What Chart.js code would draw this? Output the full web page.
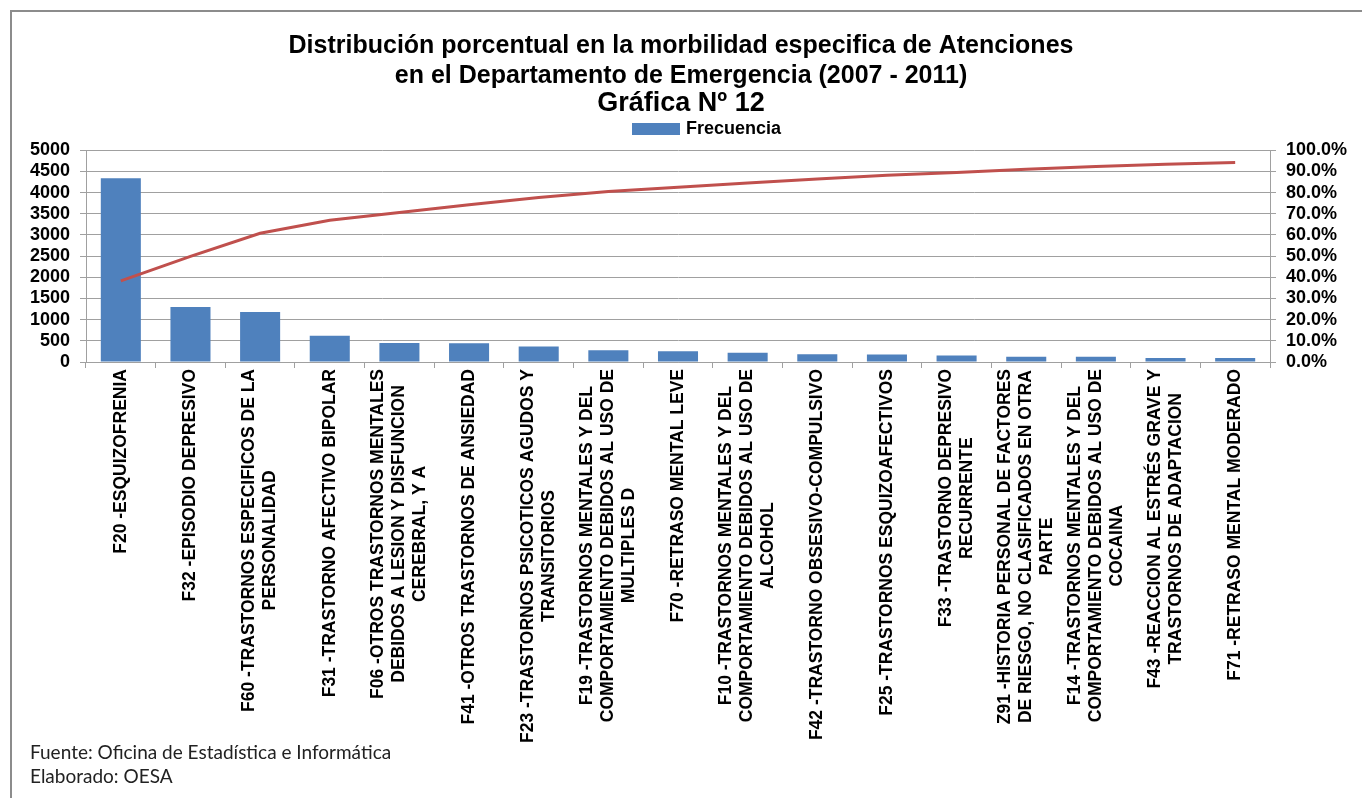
<!DOCTYPE html>
<html lang="es">
<head>
<meta charset="utf-8">
<title>Gráfica Nº 12</title>
<script src="https://cdn.jsdelivr.net/npm/chart.js@4.4.1/dist/chart.umd.min.js"></script>
<style>
  html, body { margin: 0; padding: 0; background: #fff; }
  #wrap { position: relative; width: 1362px; height: 798px; overflow: hidden; }
  #frame { position: absolute; left: 10px; top: 10px; right: -4px; bottom: -4px;
           border-top: 2px solid #8c8c8c; border-left: 2px solid #8c8c8c; }
  #chart { position: absolute; left: 0; top: 0; }
  #legend { position: absolute; left: 632px; top: 118px; display: flex; align-items: center;
            font: bold 18px "Liberation Sans", Arial, sans-serif; color: #000; }
  #legend .box { width: 48px; height: 12px; background: #4F81BD; margin-right: 6px; }
  #footer { position: absolute; left: 30px; top: 740px; font: 19px Lato, "Noto Sans", sans-serif;
            color: #222; line-height: 24px; }
</style>
</head>
<body>
<div id="wrap">
  <div id="frame"></div>
  <canvas id="chart" width="1362" height="798"></canvas>
  <div id="legend"><span class="box"></span><span>Frecuencia</span></div>
  <div id="footer">Fuente: Oficina de Estadística e Informática<br>Elaborado: OESA</div>
</div>
<script>
const titleLines = [
  'Distribución porcentual en la morbilidad especifica de Atenciones',
  'en el Departamento de Emergencia (2007 - 2011)'
];
const subtitle = 'Gráfica Nº 12';

const categories = [
  ['F20 -ESQUIZOFRENIA'],
  ['F32 -EPISODIO DEPRESIVO'],
  ['F60 -TRASTORNOS ESPECIFICOS DE LA', 'PERSONALIDAD'],
  ['F31 -TRASTORNO AFECTIVO BIPOLAR'],
  ['F06 -OTROS TRASTORNOS MENTALES', 'DEBIDOS A LESION Y DISFUNCION', 'CEREBRAL, Y A'],
  ['F41 -OTROS TRASTORNOS DE ANSIEDAD'],
  ['F23 -TRASTORNOS PSICOTICOS AGUDOS Y', 'TRANSITORIOS'],
  ['F19 -TRASTORNOS MENTALES Y DEL', 'COMPORTAMIENTO DEBIDOS AL USO DE', 'MULTIPLES D'],
  ['F70 -RETRASO MENTAL LEVE'],
  ['F10 -TRASTORNOS MENTALES Y DEL', 'COMPORTAMIENTO DEBIDOS AL USO DE', 'ALCOHOL'],
  ['F42 -TRASTORNO OBSESIVO-COMPULSIVO'],
  ['F25 -TRASTORNOS ESQUIZOAFECTIVOS'],
  ['F33 -TRASTORNO DEPRESIVO', 'RECURRENTE'],
  ['Z91 -HISTORIA PERSONAL DE FACTORES', 'DE RIESGO, NO CLASIFICADOS EN OTRA', 'PARTE'],
  ['F14 -TRASTORNOS MENTALES Y DEL', 'COMPORTAMIENTO DEBIDOS AL USO DE', 'COCAINA'],
  ['F43 -REACCION AL ESTRÉS GRAVE Y', 'TRASTORNOS DE ADAPTACION'],
  ['F71 -RETRASO MENTAL MODERADO']
];

// frecuencia (eje izquierdo)
const frecuencia = [4340, 1300, 1180, 620, 450, 445, 365, 280, 255, 220, 185, 180, 155, 125, 125, 95, 95];
// porcentaje acumulado (eje derecho)
const acumulado = [38.3, 49.9, 60.8, 67.0, 70.6, 74.3, 77.7, 80.5, 82.6, 84.6, 86.4, 88.2, 89.5, 91.0, 92.3, 93.4, 94.2];

const leftTicks = { min: 0, max: 5000, step: 500 };
const rightTicks = { min: 0, max: 100, step: 10 };

const fontFamily = '"Liberation Sans", Arial, sans-serif';
const gridColor = '#a0a0a0';

// rotated, centred multi-line category labels like the Excel original
const xLabelPlugin = {
  id: 'xLabels',
  afterDraw(chart) {
    const ctx = chart.ctx;
    const xs = chart.scales.x;
    const top = xs.top + 7;
    ctx.save();
    ctx.font = 'bold 17.5px ' + fontFamily;
    ctx.fillStyle = '#000';
    ctx.textAlign = 'center';
    ctx.textBaseline = 'middle';
    chart.data.labels.forEach((lines, i) => {
      const px = xs.getPixelForValue(i);
      const w = Math.max(...lines.map(l => ctx.measureText(l).width));
      ctx.save();
      ctx.translate(px, top);
      ctx.rotate(-Math.PI / 2);
      lines.forEach((l, j) => {
        ctx.fillText(l, -w / 2, (j - (lines.length - 1) / 2) * 21);
      });
      ctx.restore();
    });
    ctx.restore();
  }
};

new Chart(document.getElementById('chart'), {
  data: {
    labels: categories,
    datasets: [
      {
        type: 'line',
        label: 'Acumulado',
        data: acumulado,
        yAxisID: 'y1',
        borderColor: '#C0504D',
        borderWidth: 3,
        pointRadius: 0,
        tension: 0,
        order: 0
      },
      {
        type: 'bar',
        label: 'Frecuencia',
        data: frecuencia,
        yAxisID: 'y',
        backgroundColor: '#4F81BD',
        barPercentage: 0.575,
        categoryPercentage: 1,
        order: 1
      }
    ]
  },
  options: {
    responsive: false,
    animation: false,
    layout: { padding: { left: 0, right: 0, top: 0, bottom: 430 } },
    plugins: {
      legend: { display: false },
      tooltip: { enabled: false },
      title: {
        display: true,
        text: titleLines,
        color: '#000',
        font: { family: fontFamily, size: 25, weight: 'bold', lineHeight: 1.2 },
        padding: { top: 31, bottom: 0 }
      },
      subtitle: {
        display: true,
        text: subtitle,
        color: '#000',
        font: { family: fontFamily, size: 27, weight: 'bold', lineHeight: 0.9 },
        padding: { top: 0, bottom: 35 }
      }
    },
    scales: {
      x: {
        grid: { display: true, drawOnChartArea: false, offset: true, tickLength: 6, color: gridColor },
        border: { color: gridColor },
        ticks: { display: false }
      },
      y: {
        position: 'left',
        min: leftTicks.min,
        max: leftTicks.max,
        ticks: { stepSize: leftTicks.step, autoSkip: false, color: '#000', padding: 10,
                 font: { family: fontFamily, size: 18, weight: 'bold' },
                 callback: v => String(v) },
        grid: { color: gridColor, tickLength: 6 },
        border: { color: gridColor },
        afterFit(s) { s.width = 86; }
      },
      y1: {
        position: 'right',
        min: rightTicks.min,
        max: rightTicks.max,
        ticks: { stepSize: rightTicks.step, autoSkip: false, color: '#000', padding: 10,
                 font: { family: fontFamily, size: 18, weight: 'bold' },
                 callback: v => v.toFixed(1) + '%' },
        grid: { drawOnChartArea: false, color: gridColor, tickLength: 6 },
        border: { color: gridColor },
        afterFit(s) { s.width = 92; }
      }
    }
  },
  plugins: [xLabelPlugin]
});
</script>
</body>
</html>
